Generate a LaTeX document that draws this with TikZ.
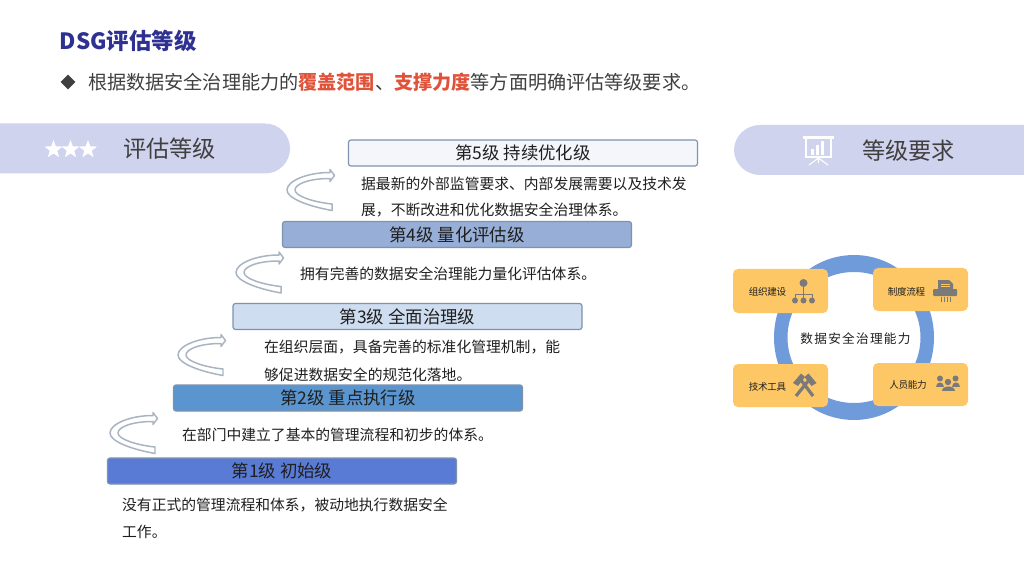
\documentclass[tikz,border=0pt]{standalone}
\usepackage{fontspec}
\setmainfont{Noto Sans CJK SC}
\usetikzlibrary{shapes.geometric}
\definecolor{pill}{HTML}{D0D3EE}
\definecolor{navy}{HTML}{2E3192}
\definecolor{hot}{HTML}{E0533A}
\definecolor{ink}{HTML}{404040}
\definecolor{body}{HTML}{1F1F1F}
\definecolor{arrowline}{HTML}{A9B4C2}
\definecolor{barline}{HTML}{7F93AD}
\definecolor{ring}{HTML}{6F9BDB}
\definecolor{amber}{HTML}{FDC765}
\definecolor{icon}{HTML}{7A7A7A}
\tikzset{
  fs/.style={font=\fontsize{#1}{#1}\selectfont},
  level/.style={draw=barline,line width=1.2pt,rounded corners=2.5,minimum width=349bp,minimum height=26bp,inner sep=0pt,text=body,fs=17.5},
  note/.style={anchor=west,inner sep=0pt,text=body,fs=14.85},
  amberbox/.style={fill=amber,rounded corners=5,minimum width=95bp,minimum height=44bp,inner sep=0pt},
  boxlabel/.style={inner sep=0pt,text=body,fs=9.6},
  star5/.style={star,star points=5,star point ratio=2.4,fill=white,minimum size=19bp,inner sep=0pt,draw=none},
  curl/.style={draw=arrowline,fill=white,line width=1.5pt,line join=round},
}
\newcommand{\curlarrow}[2]{%
  \draw[curl,shift={(#1,#2)}] (47.5,-16.5) -- (43,-22.5) -- (43,-19.5)
    .. controls (20,-19.5) and (0,-11) .. (0,-2)
    .. controls (0,6) and (20,14) .. (45,18.5) -- (45,12)
    .. controls (26,10) and (8,4) .. (8,-2)
    .. controls (8,-8) and (22,-13.5) .. (43,-13.5) -- (43,-10.5) -- cycle;}
\begin{document}
\begin{tikzpicture}[x=1bp,y=-1bp]
\useasboundingbox (0,0) rectangle (1024,576);
\fill[white] (0,0) rectangle (1024,576);
% heading
\node[anchor=west,inner sep=0pt,text=navy,font=\fontsize{22.5}{22.5}\selectfont\bfseries] (title) at (59.5,40.5) {DSG评估等级};
\node[diamond,fill=ink,minimum width=15bp,minimum height=15bp,inner sep=0pt] (bullet) at (68,82) {};
\node[anchor=west,inner sep=0pt,text=ink,fs=19.2] (lead) at (88,82.5) {根据数据安全治理能力的\textcolor{hot}{\bfseries 覆盖范围}、\textcolor{hot}{\bfseries 支撑力度}等方面明确评估等级要求。};
% left pill
\fill[pill] (0,123.5) -- (265,123.5) .. controls (279,123.5) and (290,134.7) .. (290,148.5)
  .. controls (290,162.3) and (279,173.5) .. (265,173.5) -- (0,173.5) -- cycle;
\node[star5] (s1) at (53.5,149.5) {};
\node[star5] (s2) at (70.5,149.5) {};
\node[star5] (s3) at (88,149.5) {};
\node[anchor=west,inner sep=0pt,text=ink,fs=23.3] (lefthead) at (123,148.5) {评估等级};
% right pill
\fill[pill] (1024,125) -- (760,125) .. controls (746,125) and (734,136.2) .. (734,150)
  .. controls (734,163.8) and (746,175) .. (760,175) -- (1024,175) -- cycle;
\node[anchor=west,inner sep=0pt,text=ink,fs=23.3] (righthead) at (862,150.5) {等级要求};
\begin{scope}[white,line width=1.1pt]
  \fill (803,136.5) rectangle (834,139);
  \draw (806,138) -- (806,157) -- (831,157) -- (831,138);
  \fill (811,149) rectangle (814,155);
  \fill (816,145) rectangle (819,155);
  \fill (821,141) rectangle (824,155);
  \draw (818.5,157) -- (818.5,163) (818.5,158) -- (809,165) (818.5,158) -- (828,165);
\end{scope}
% levels
\node[level,fill={rgb,255:red,244;green,246;blue,251}] (L5) at (523,153) {第5级 持续优化级};
\node[level,fill={rgb,255:red,151;green,174;blue,214}] (L4) at (457,234.5) {第4级 量化评估级};
\node[level,fill={rgb,255:red,207;green,221;blue,241}] (L3) at (407.5,316.5) {第3级 全面治理级};
\node[level,fill={rgb,255:red,91;green,149;blue,207}] (L2) at (348,398) {第2级 重点执行级};
\node[level,fill={rgb,255:red,90;green,123;blue,213}] (L1) at (282,471) {第1级 初始级};
% notes
\node[note] (n5a) at (361,183.5) {据最新的外部监管要求、内部发展需要以及技术发};
\node[note] (n5b) at (361,209.5) {展，不断改进和优化数据安全治理体系。};
\node[note] (n4) at (300,273.5) {拥有完善的数据安全治理能力量化评估体系。};
\node[note] (n3a) at (264,347.5) {在组织层面，具备完善的标准化管理机制，能};
\node[note] (n3b) at (264,374.5) {够促进数据安全的规范化落地。};
\node[note] (n2) at (182,434.5) {在部门中建立了基本的管理流程和初步的体系。};
\node[note] (n1a) at (122,504.5) {没有正式的管理流程和体系，被动地执行数据安全};
\node[note] (n1b) at (122,531.5) {工作。};
% curved arrows
\curlarrow{287}{192}
\curlarrow{236}{274.5}
\curlarrow{178}{357}
\curlarrow{110}{435}
% ring
\fill[ring,even odd rule] (854,337.5) ellipse[x radius=80,y radius=82.5] (854,337.5) ellipse[x radius=66.5,y radius=65.5];
\node[inner sep=0pt,text=body,fs=12.7] (core) at (855.5,338.5) {\addfontfeature{LetterSpace=10}数据安全治理能力};
\node[amberbox] (b1) at (780.5,291) {};
\node[amberbox,minimum height=43bp] (b2) at (920.5,289.5) {};
\node[amberbox,minimum height=43bp] (b3) at (780.5,385.5) {};
\node[amberbox,minimum height=43bp] (b4) at (920.5,384.5) {};
\node[boxlabel] (t1) at (767.5,292) {\addfontfeature{LetterSpace=-4}组织建设};
\node[boxlabel] (t2) at (906.5,292) {\addfontfeature{LetterSpace=-4}制度流程};
\node[boxlabel] (t3) at (767.5,386.5) {\addfontfeature{LetterSpace=-4}技术工具};
\node[boxlabel] (t4) at (908,385) {\addfontfeature{LetterSpace=-4}人员能力};
% org chart icon
\begin{scope}[icon,line width=.7pt]
  \fill (803.5,283) circle[radius=4];
  \draw (803.5,287) -- (803.5,294) (795,298) -- (795,294) -- (812,294) -- (812,298) (803.5,294) -- (803.5,298);
  \fill (795,300.5) circle[radius=3] (803.5,300.5) circle[radius=3] (812,300.5) circle[radius=3];
\end{scope}
% shredder icon
\begin{scope}[icon]
  \fill (938,280) -- (949,280) -- (953,284) -- (953,289) -- (938,289) -- cycle;
  \draw[amber,line width=.6pt] (941,284) -- (950,284) (941,286.5) -- (950,286.5);
  \fill[rounded corners=1] (933,289) rectangle (957,296);
  \draw[line width=.6pt] (941,297) -- (941,302) (944,297) -- (944,302) (947,297) -- (947,302) (950,297) -- (950,302);
\end{scope}
% hammers icon
\begin{scope}[icon]
  \draw[line width=3.2pt] (796,396) -- (809,380);
  \draw[line width=3.2pt] (813,396) -- (801,380);
  \fill (793,383) -- (801,373.5) -- (805,377) -- (798,386) -- cycle;
  \fill (816.5,383) -- (808.5,373.5) -- (804.5,377) -- (811.5,386) -- cycle;
\end{scope}
% people icon
\begin{scope}[icon]
  \fill (940,378.5) circle[radius=3] (955.5,378.5) circle[radius=3] (948,382) circle[radius=3.2];
  \fill (936,387) .. controls (936,381) and (944,381) .. (944,387) -- cycle;
  \fill (951.5,387) .. controls (951.5,381) and (959.5,381) .. (959.5,387) -- cycle;
  \fill (941.5,391) .. controls (941.5,384.5) and (954.5,384.5) .. (954.5,391) -- cycle;
\end{scope}
\end{tikzpicture}
\end{document}
